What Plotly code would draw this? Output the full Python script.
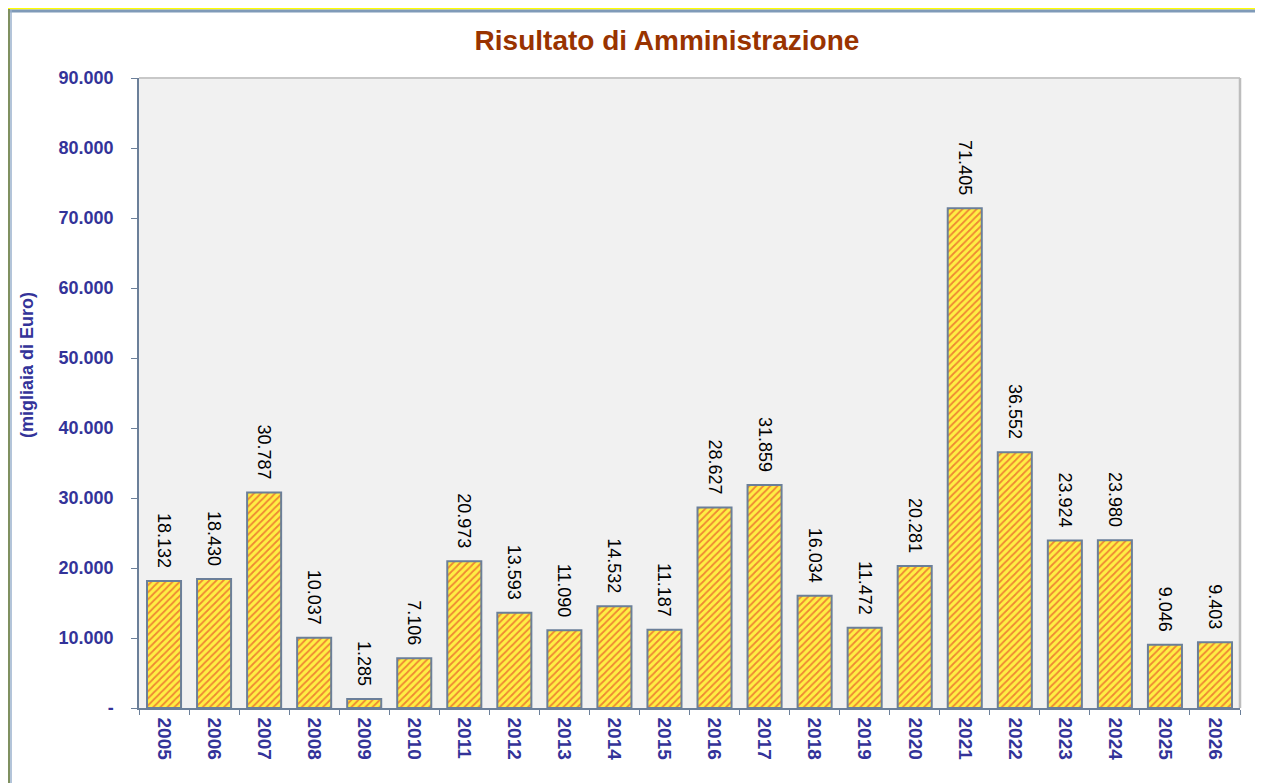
import plotly.graph_objects as go

years = [str(y) for y in range(2005, 2027)]
values = [18132, 18430, 30787, 10037, 1285, 7106, 20973, 13593, 11090, 14532, 11187,
          28627, 31859, 16034, 11472, 20281, 71405, 36552, 23924, 23980, 9046, 9403]
ytick_vals = [0, 10000, 20000, 30000, 40000, 50000, 60000, 70000, 80000, 90000]
ytick_text = ["-", "10.000", "20.000", "30.000", "40.000", "50.000", "60.000", "70.000", "80.000", "90.000"]

OFF = 8  # page body margin
W, H = 1263 - OFF, 783 - OFF
L, R, T, B = 139 - OFF, 23, 78 - OFF, 75
pw, ph = W - L - R, H - T - B

def px(x):  # page pixel -> paper
    return (x - OFF - L) / pw

def py(y):
    return (H - B - (y - OFF)) / ph

blue = "#333399"
FONT = "Arial, Liberation Sans"

fig = go.Figure(go.Bar(
    x=years, y=values,
    marker=dict(color="#ffff66",
                line=dict(color="#6b7f99", width=2),
                pattern=dict(shape="/", fgcolor="#dd1f1f", bgcolor="#ffee44", size=5, solidity=0.35)),
    texttemplate="%{y:,.0f}\u00a0\u00a0", textposition="outside", textangle=90,
    constraintext="none",
    textfont=dict(family=FONT, size=18, color="black"),
    cliponaxis=False,
))

fig.update_layout(
    width=W, height=H,
    margin=dict(l=L, r=R, t=T, b=B),
    separators=",.",
    paper_bgcolor="white", plot_bgcolor="#f1f1f1",
    bargap=0.32,
    showlegend=False,
    title=dict(text="<b>Risultato di Amministrazione</b>", x=(667 - OFF) / W, xanchor="center",
               y=1 - (40 - OFF) / H, yanchor="middle",
               font=dict(family=FONT, size=28, color="#993300")),
    font=dict(family=FONT),
    xaxis=dict(type="category", tickangle=90, showline=True, linecolor="#6b7f99", linewidth=1.5,
               ticks="outside", tickson="boundaries", ticklen=5, tickcolor="#6b7f99",
               tickfont=dict(size=19, color=blue, family=FONT, weight="bold"),
               ticklabelstandoff=4, showgrid=False),
    yaxis=dict(range=[0, 90000], tickvals=ytick_vals, ticktext=ytick_text,
               showline=True, linecolor="#6b7f99", linewidth=1.5,
               ticks="outside", ticklen=6, tickcolor="#6b7f99", showgrid=False, zeroline=False,
               tickfont=dict(size=18, color=blue, family=FONT, weight="bold"),
               ticklabelstandoff=14),
    annotations=[dict(text="<b>(migliaia di Euro)</b>", xref="paper", yref="paper",
                      x=px(27), y=py(365), xanchor="center", yanchor="middle",
                      textangle=-90, showarrow=False,
                      font=dict(size=18, color=blue, family=FONT))],
    shapes=[
        dict(type="line", xref="paper", yref="paper", x0=px(8), x1=px(1263), y0=py(8.5), y1=py(8.5),
             line=dict(color="#ffff00", width=2)),
        dict(type="line", xref="paper", yref="paper", x0=px(9), x1=px(1263), y0=py(11), y1=py(11),
             line=dict(color="#7f9ab8", width=3)),
        dict(type="line", xref="paper", yref="paper", x0=px(9), x1=px(9), y0=py(9), y1=py(783),
             line=dict(color="#7f9060", width=2)),
        dict(type="line", xref="paper", yref="paper", x0=px(11), x1=px(11), y0=py(10), y1=py(783),
             line=dict(color="#9ab0cc", width=1.5)),
        dict(type="line", xref="paper", yref="paper", x0=0, x1=1, y0=1, y1=1,
             line=dict(color="#c8c8c8", width=2)),
        dict(type="line", xref="paper", yref="paper", x0=1, x1=1, y0=0, y1=1,
             line=dict(color="#bdbdbd", width=2.5)),
    ],
)

fig.write_html("out.html")
